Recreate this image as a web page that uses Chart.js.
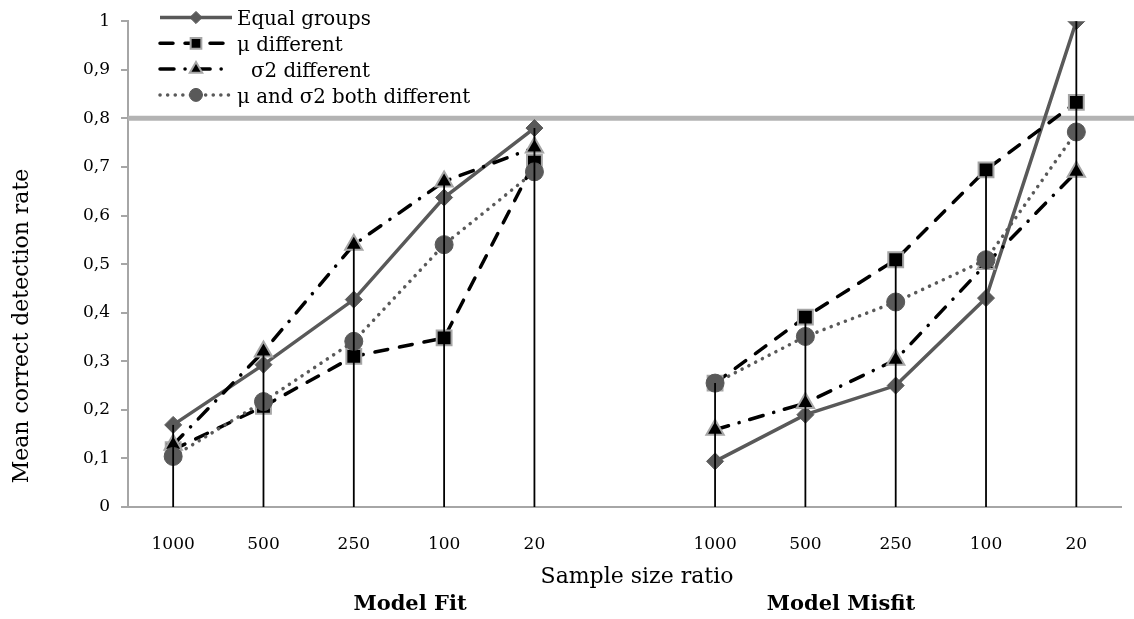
<!DOCTYPE html>
<html>
<head>
<meta charset="utf-8">
<title>Mean correct detection rate</title>
<script src="https://cdn.jsdelivr.net/npm/chart.js"></script>
<style>
  html, body { margin: 0; padding: 0; background: #fff; }
  #wrap { width: 1134px; height: 619px; }
</style>
</head>
<body>
<div id="wrap"><canvas id="detectionChart" width="1134" height="619"></canvas></div>
<script>
// Sample size ratios, the empty slot splits Model Fit / Model Misfit
const ratioLabels = ["1000", "500", "250", "100", "20", "", "1000", "500", "250", "100", "20"];

const equalGroups = [0.169, 0.293, 0.427, 0.637, 0.78, null, 0.094, 0.19, 0.25, 0.43, 1.0];
const muDifferent = [0.118, 0.207, 0.31, 0.348, 0.71, null, 0.255, 0.391, 0.509, 0.694, 0.833];
const sigmaDifferent = [0.128, 0.32, 0.54, 0.67, 0.74, null, 0.159, 0.214, 0.303, 0.5, 0.69];
const bothDifferent = [0.104, 0.217, 0.341, 0.54, 0.69, null, 0.255, 0.351, 0.422, 0.509, 0.772];

const seriesNames = ["Equal groups", "μ different", "σ2 different", "μ and σ2 both different"];
const cutoff = 0.8;

const yTitle = "Mean correct detection rate";
const xTitle = "Sample size ratio";
const groupTitles = ["Model Fit", "Model Misfit"];

const serif = "'DejaVu Serif', 'Liberation Serif', serif";
const darkGray = "#595959";
const markerEdge = "#a6a6a6";

const ctx = document.getElementById("detectionChart");

const datasets = [
  {
    label: seriesNames[0],
    data: equalGroups,
    borderColor: darkGray,
    borderWidth: 3.5,
    pointStyle: "rectRot",
    pointRadius: 8.5,
    pointBackgroundColor: darkGray,
    pointBorderColor: darkGray,
    pointBorderWidth: 1,
    order: 3,
  },
  {
    label: seriesNames[1],
    data: muDifferent,
    borderColor: "#000",
    borderWidth: 3.5,
    borderDash: [13, 12],
    borderCapStyle: "round",
    pointStyle: "rect",
    pointRadius: 10.5,
    pointBackgroundColor: "#000",
    pointBorderColor: markerEdge,
    pointBorderWidth: 2,
    order: 2,
  },
  {
    label: seriesNames[2],
    data: sigmaDifferent,
    borderColor: "#000",
    borderWidth: 3.5,
    borderDash: [14, 11, 0.1, 11],
    borderCapStyle: "round",
    pointStyle: "triangle",
    pointRadius: 10,
    pointBackgroundColor: "#000",
    pointBorderColor: markerEdge,
    pointBorderWidth: 2,
    order: 1,
  },
  {
    label: seriesNames[3],
    data: bothDifferent,
    borderColor: darkGray,
    borderWidth: 3.5,
    borderDash: [0.1, 7.5],
    borderCapStyle: "round",
    pointStyle: "circle",
    pointRadius: 9,
    pointBackgroundColor: darkGray,
    pointBorderColor: darkGray,
    pointBorderWidth: 1,
    order: 0,
  },
];

// gray cutoff line, drop lines, legend and the free text around the plot
const extrasPlugin = {
  id: "extras",
  beforeDatasetsDraw(chart) {
    const { ctx, chartArea, scales } = chart;
    const y = scales.y.getPixelForValue(cutoff);
    ctx.save();
    ctx.strokeStyle = "#b3b3b3";
    ctx.lineWidth = 5;
    ctx.beginPath();
    ctx.moveTo(chartArea.left, y);
    ctx.lineTo(chart.width, y);
    ctx.stroke();
    ctx.restore();
  },
  afterDatasetsDraw(chart) {
    const { ctx, scales } = chart;
    const y0 = scales.y.getPixelForValue(0);
    ctx.save();
    ctx.strokeStyle = "#000";
    ctx.lineWidth = 1.8;
    ratioLabels.forEach((lab, i) => {
      const vals = chart.data.datasets.map((d) => d.data[i]).filter((v) => v != null);
      if (!vals.length) return;
      const x = scales.x.getPixelForValue(i);
      const top = scales.y.getPixelForValue(Math.max(...vals));
      ctx.beginPath();
      ctx.moveTo(x, y0);
      ctx.lineTo(x, top);
      ctx.stroke();
    });
    ctx.restore();
  },
  afterDraw(chart) {
    const { ctx } = chart;
    ctx.save();
    ctx.fillStyle = "#000";

    // legend inside the plot, top left
    chart.data.datasets.forEach((ds, i) => {
      const rowY = 17.5 + i * 25.8;
      ctx.save();
      ctx.strokeStyle = ds.borderColor;
      ctx.lineWidth = ds.borderWidth;
      ctx.lineCap = ds.borderCapStyle || "butt";
      ctx.setLineDash(ds.borderDash || []);
      ctx.beginPath();
      ctx.moveTo(160, rowY);
      ctx.lineTo(232, rowY);
      ctx.stroke();
      ctx.setLineDash([]);
      ctx.fillStyle = ds.pointBackgroundColor;
      ctx.strokeStyle = ds.pointBorderColor;
      ctx.lineWidth = ds.pointBorderWidth;
      Chart.helpers.drawPoint(ctx, {
        pointStyle: ds.pointStyle,
        radius: ds.pointRadius * 0.72,
        rotation: 0,
        borderWidth: ds.pointBorderWidth,
      }, 196, rowY);
      ctx.restore();
      ctx.font = "19.8px " + serif;
      ctx.textAlign = "left";
      ctx.textBaseline = "middle";
      // the σ2 entry sits a little further right in the original
      ctx.fillText(ds.label, i === 2 ? 251 : 237, rowY + 2.5);
    });

    // y axis title
    ctx.save();
    ctx.translate(22, 326);
    ctx.rotate(-Math.PI / 2);
    ctx.font = "22px " + serif;
    ctx.textAlign = "center";
    ctx.textBaseline = "middle";
    ctx.fillText(yTitle, 0, 0);
    ctx.restore();

    // x axis title and group names
    ctx.textAlign = "center";
    ctx.textBaseline = "middle";
    ctx.font = "22px " + serif;
    ctx.fillText(xTitle, 637, 577);
    ctx.font = "bold 21px " + serif;
    ctx.fillText(groupTitles[0], 410, 605);
    ctx.fillText(groupTitles[1], 841, 605);
    ctx.restore();
  },
};

const detectionChart = new Chart(ctx, {
  type: "line",
  data: {
    labels: ratioLabels,
    datasets: datasets,
  },
  options: {
    responsive: false,
    animation: false,
    spanGaps: false,
    layout: {
      padding: { left: 0, right: 2, top: 21, bottom: 0 },
    },
    plugins: {
      legend: { display: false },
      tooltip: { enabled: false },
    },
    scales: {
      x: {
        offset: true,
        grid: { display: false },
        border: { display: true, color: markerEdge, width: 2 },
        ticks: {
          autoSkip: false,
          maxRotation: 0,
          padding: 19,
          color: "#000",
          font: { family: serif, size: 17 },
        },
        afterFit: (scale) => {
          scale.height = 112;
        },
      },
      y: {
        min: 0,
        max: 1,
        grid: {
          drawOnChartArea: false,
          drawTicks: true,
          tickLength: 7,
          color: markerEdge,
          lineWidth: 2,
        },
        border: { display: true, color: markerEdge, width: 2 },
        ticks: {
          stepSize: 0.1,
          padding: 11,
          color: "#000",
          font: { family: serif, size: 17 },
          callback: (value) => Number(value.toFixed(1)).toString().replace(".", ","),
        },
        afterFit: (scale) => {
          scale.width = 128;
        },
      },
    },
  },
  plugins: [extrasPlugin],
});
</script>
</body>
</html>
